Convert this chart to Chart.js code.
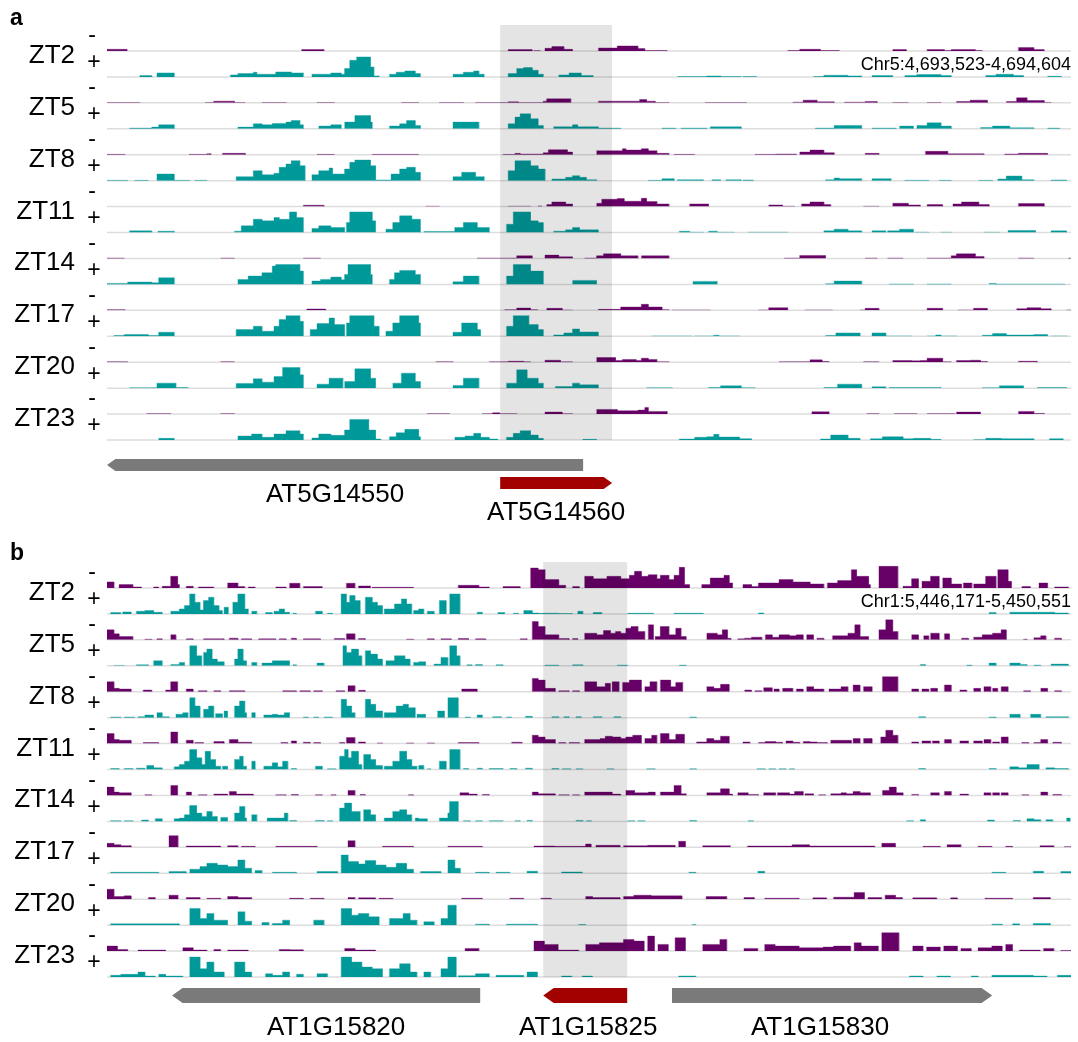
<!DOCTYPE html>
<html>
<head>
<meta charset="utf-8">
<title>Stranded coverage, ZT time course</title>
<script src="https://cdn.jsdelivr.net/npm/chart.js@4.4.1/dist/chart.umd.min.js"></script>
<style>
  html, body { margin: 0; padding: 0; background: #fff; }
  #wrap { position: relative; width: 1078px; height: 1042px; }
  canvas { position: absolute; left: 0; }
  #panelA { top: 0; }
  #panelB { top: 530px; }
</style>
</head>
<body>
<div id="wrap">
  <canvas id="panelA" width="1078" height="530"></canvas>
  <canvas id="panelB" width="1078" height="512"></canvas>
</div>
<script>
// sampling times, shared by both loci
const timepoints = ['ZT2', 'ZT5', 'ZT8', 'ZT11', 'ZT14', 'ZT17', 'ZT20', 'ZT23'];

// coverage runs: [start, end, value], positions in window units (0-2800)
// ---- locus a: Chr5:4,693,523-4,694,604 ----
const a_ZT2_minus = [[0,58,5],[565,630,4],[1165,1235,4],[1240,1258,1],[1272,1292,8],[1292,1327,13],[1327,1352,5],[1427,1482,9],[1482,1542,15],[1542,1562,7],[1562,1627,1],[1977,2012,1],[2012,2072,5],[2072,2127,1],[2282,2322,4],[2382,2432,4],[2432,2452,1],[2452,2522,4],[2522,2542,1],[2647,2692,10],[2692,2722,4]];
const a_ZT2_plus = [[95,130,4],[145,195,12],[358,380,6],[380,425,10],[425,435,14],[435,490,8],[490,535,15],[535,570,12],[595,650,8],[650,680,12],[680,690,8],[690,705,25],[705,725,50],[725,765,60],[765,775,30],[775,790,3],[820,840,8],[840,865,14],[865,895,18],[895,910,10],[1005,1035,8],[1035,1065,14],[1065,1080,18],[1080,1095,8],[1165,1190,10],[1190,1210,25],[1210,1235,28],[1235,1252,20],[1252,1267,8],[1312,1342,6],[1342,1377,12],[1377,1412,4],[1657,1742,1],[1742,1782,3],[1782,1842,1],[1847,1887,1],[2052,2082,1],[2082,2152,5],[2152,2192,3],[2222,2282,4],[2317,2352,4],[2352,2422,7],[2422,2452,4],[2552,2582,4],[2582,2632,8],[2632,2662,4],[2732,2772,2]];
const a_ZT5_minus = [[0,95,1],[285,310,1],[310,370,5],[370,400,1],[450,520,1],[610,660,1],[855,905,1],[965,1035,1],[1070,1165,1],[1165,1195,3],[1195,1267,1],[1267,1277,5],[1277,1347,12],[1427,1547,5],[1547,1567,10],[1567,1592,5],[1592,1632,1],[1737,1857,1],[1992,2022,2],[2022,2062,8],[2062,2112,3],[2142,2202,2],[2202,2237,4],[2282,2327,1],[2382,2422,1],[2467,2507,4],[2507,2557,8],[2612,2642,4],[2642,2672,15],[2672,2722,7],[2722,2742,1]];
const a_ZT5_plus = [[65,130,2],[130,150,5],[150,195,12],[380,425,5],[425,450,15],[450,480,12],[480,520,16],[520,535,20],[535,560,25],[560,570,12],[615,650,8],[650,680,12],[690,720,20],[720,765,40],[765,770,20],[820,850,8],[850,870,15],[870,895,25],[895,910,10],[1005,1080,20],[1165,1185,15],[1185,1200,35],[1200,1230,45],[1230,1252,30],[1252,1267,10],[1297,1352,6],[1352,1367,12],[1367,1427,6],[1427,1492,2],[1612,1652,2],[1667,1742,2],[1752,1842,6],[2057,2112,2],[2112,2192,10],[2222,2292,2],[2302,2342,8],[2352,2382,10],[2382,2422,18],[2422,2452,8],[2537,2572,4],[2572,2622,8],[2622,2692,3],[2732,2767,2]];
const a_ZT8_minus = [[0,52,1],[238,290,1],[290,302,3],[335,402,4],[610,660,1],[770,905,1],[1150,1185,1],[1185,1200,4],[1200,1267,2],[1267,1282,6],[1282,1337,15],[1337,1352,8],[1422,1497,12],[1497,1507,18],[1507,1552,14],[1552,1572,18],[1572,1597,12],[1597,1632,4],[1647,1707,1],[1882,1942,1],[1942,2002,2],[2012,2042,8],[2042,2082,14],[2082,2112,6],[2202,2242,4],[2377,2442,10],[2442,2547,3],[2607,2647,2],[2647,2732,4]];
const a_ZT8_plus = [[0,60,1],[80,120,1],[145,195,20],[195,240,1],[255,290,1],[375,425,12],[425,450,30],[450,485,18],[485,500,22],[500,520,40],[520,535,50],[535,560,60],[560,575,45],[595,615,18],[615,645,30],[645,655,38],[655,690,20],[690,705,35],[705,720,55],[720,765,62],[765,780,45],[780,825,2],[825,850,20],[850,870,35],[870,895,40],[895,910,25],[1005,1030,12],[1030,1070,25],[1070,1095,12],[1165,1185,30],[1185,1230,60],[1230,1252,45],[1252,1272,35],[1292,1332,5],[1332,1352,10],[1352,1372,15],[1372,1392,10],[1392,1422,3],[1572,1612,1],[1612,1647,6],[1657,1732,3],[1757,1782,3],[1797,1842,3],[1847,1877,2],[2087,2112,3],[2112,2127,8],[2127,2192,6],[2222,2277,6],[2317,2387,1],[2417,2452,1],[2532,2572,1],[2587,2612,5],[2612,2657,14],[2657,2692,3],[2742,2787,2]];
const a_ZT11_minus = [[570,630,4],[925,965,1],[1165,1230,1],[1252,1262,2],[1277,1292,6],[1292,1332,14],[1332,1352,8],[1422,1437,10],[1437,1482,22],[1482,1502,24],[1502,1552,16],[1552,1567,25],[1567,1597,15],[1597,1632,8],[1692,1747,8],[1922,1962,5],[1962,1997,1],[2017,2042,8],[2042,2082,14],[2082,2102,6],[2197,2242,1],[2282,2327,10],[2327,2362,5],[2382,2427,6],[2457,2482,8],[2482,2532,14],[2532,2562,6],[2647,2722,9]];
const a_ZT11_plus = [[65,130,5],[148,195,4],[370,390,4],[390,425,20],[425,450,40],[450,485,35],[485,500,45],[500,530,40],[530,550,62],[550,570,45],[595,615,12],[615,650,20],[650,690,15],[695,705,30],[705,770,62],[770,780,35],[810,830,10],[830,850,30],[850,885,50],[885,910,40],[920,1010,3],[1010,1035,15],[1035,1075,30],[1075,1110,15],[1160,1180,25],[1180,1230,62],[1230,1252,35],[1252,1267,30],[1297,1332,4],[1332,1352,8],[1352,1372,15],[1372,1427,8],[1662,1692,4],[1692,1732,1],[1747,1772,4],[1772,1822,1],[1862,1977,1],[2082,2112,5],[2112,2152,10],[2152,2192,5],[2222,2262,5],[2267,2302,5],[2302,2342,10],[2347,2387,1],[2422,2452,1],[2547,2592,1],[2617,2697,6],[2742,2787,5]];
const a_ZT14_minus = [[0,50,1],[330,370,1],[570,620,1],[1075,1190,1],[1190,1235,8],[1272,1312,10],[1312,1352,5],[1387,1422,1],[1422,1442,8],[1442,1492,14],[1492,1542,8],[1552,1632,8],[1967,2012,1],[2012,2087,9],[2202,2237,1],[2267,2312,1],[2382,2452,1],[2452,2467,8],[2467,2522,14],[2522,2547,6],[2647,2692,1],[2792,2800,1]];
const a_ZT14_plus = [[0,60,3],[60,130,7],[130,150,5],[150,195,20],[380,410,15],[410,450,25],[450,480,35],[480,490,55],[490,560,60],[560,570,40],[595,620,10],[620,650,15],[650,680,22],[680,690,14],[690,700,30],[700,765,60],[765,770,30],[820,835,15],[835,850,35],[850,895,42],[895,910,30],[1005,1035,8],[1035,1080,25],[1160,1180,25],[1180,1230,60],[1230,1267,40],[1352,1422,12],[1702,1772,9],[2087,2112,2],[2112,2192,10],[2272,2342,1],[2382,2452,1],[2562,2582,3],[2582,2782,1]];
const a_ZT17_minus = [[0,52,2],[580,635,4],[1155,1190,2],[1190,1230,7],[1230,1250,2],[1277,1322,6],[1322,1352,1],[1427,1492,3],[1492,1552,10],[1552,1572,18],[1572,1612,10],[1612,1632,2],[1642,1752,1],[1892,1922,1],[1922,1977,8],[2027,2107,1],[2187,2202,1],[2202,2242,6],[2382,2427,6],[2472,2517,1],[2517,2557,6],[2642,2672,5],[2672,2712,8],[2712,2742,5],[2787,2800,1]];
const a_ZT17_plus = [[20,50,2],[50,120,5],[120,150,2],[150,195,12],[375,425,20],[425,450,30],[450,485,15],[485,500,30],[500,520,50],[520,560,62],[560,570,45],[590,610,20],[610,645,38],[645,660,55],[660,690,35],[695,705,40],[705,775,62],[775,790,30],[810,830,15],[830,850,40],[850,905,62],[905,910,40],[1005,1030,12],[1030,1075,40],[1075,1085,20],[1160,1180,30],[1180,1225,62],[1225,1252,35],[1252,1267,20],[1297,1327,4],[1327,1352,10],[1352,1372,22],[1372,1427,13],[1582,1697,1],[1707,1762,1],[1762,1777,3],[1777,1837,1],[2087,2117,2],[2117,2187,10],[2222,2262,10],[2262,2337,1],[2382,2407,1],[2407,2422,4],[2422,2467,1],[2542,2572,3],[2572,2612,8],[2612,2692,4],[2692,2732,5],[2742,2787,1]];
const a_ZT20_minus = [[0,60,1],[330,370,1],[955,1005,1],[1110,1165,1],[1165,1210,3],[1210,1230,1],[1272,1317,6],[1317,1352,1],[1422,1477,14],[1477,1497,5],[1497,1537,8],[1537,1552,5],[1552,1572,12],[1572,1597,8],[1597,1632,1],[1952,2042,1],[2042,2077,7],[2077,2097,2],[2197,2242,1],[2282,2337,5],[2337,2362,4],[2362,2382,5],[2382,2427,12],[2427,2452,1],[2467,2507,5],[2507,2537,6],[2537,2557,2],[2647,2702,3]];
const a_ZT20_plus = [[65,145,1],[145,200,15],[200,235,2],[375,425,14],[425,450,28],[450,485,18],[485,510,35],[510,560,62],[560,570,40],[610,645,12],[645,685,30],[690,720,20],[720,765,58],[765,780,30],[830,855,15],[855,895,45],[895,910,20],[1005,1035,8],[1035,1080,30],[1160,1190,15],[1190,1220,55],[1220,1252,30],[1252,1267,15],[1302,1352,5],[1352,1372,15],[1372,1427,10],[1567,1642,1],[1747,1782,2],[1782,1842,7],[1842,1882,1],[2082,2122,2],[2122,2192,12],[2222,2262,4],[2272,2422,2],[2542,2592,1],[2592,2662,7],[2702,2787,2]];
const a_ZT23_minus = [[115,185,1],[330,370,1],[930,995,1],[1090,1120,1],[1120,1140,4],[1140,1190,1],[1272,1322,6],[1322,1352,1],[1422,1482,14],[1482,1542,10],[1542,1562,12],[1562,1572,20],[1572,1627,8],[2047,2097,7],[2207,2242,1],[2287,2352,1],[2382,2462,1],[2467,2537,6],[2647,2692,8],[2692,2722,2]];
const a_ZT23_plus = [[150,195,5],[380,420,12],[420,450,18],[450,485,8],[485,520,18],[520,560,28],[560,570,18],[595,615,6],[615,650,18],[650,690,14],[690,705,30],[705,760,62],[760,780,30],[780,795,3],[820,840,10],[840,865,22],[865,905,32],[905,910,10],[1010,1040,8],[1040,1065,12],[1065,1085,20],[1085,1110,8],[1110,1135,3],[1160,1180,8],[1180,1200,20],[1200,1230,28],[1230,1252,15],[1252,1267,5],[1382,1422,2],[1662,1707,3],[1707,1742,8],[1742,1762,10],[1762,1777,17],[1777,1837,9],[1837,1872,4],[2072,2102,3],[2102,2152,15],[2152,2187,5],[2217,2252,4],[2252,2312,10],[2312,2342,4],[2342,2392,5],[2392,2422,2],[2517,2552,1],[2552,2597,5],[2597,2692,4],[2737,2777,4]];

// ---- locus b: Chr1:5,446,171-5,450,551 ----
const b_ZT2_minus = [[0,20,18],[35,75,10],[75,100,3],[135,150,3],[160,185,5],[185,205,35],[205,210,10],[230,250,5],[265,310,3],[350,380,15],[380,400,4],[410,430,3],[490,520,3],[530,560,14],[570,625,4],[695,720,14],[730,765,6],[770,890,2],[1020,1080,8],[1080,1110,3],[1150,1200,4],[1230,1252,60],[1252,1272,55],[1272,1312,25],[1312,1332,8],[1352,1372,4],[1387,1412,35],[1412,1452,28],[1452,1492,35],[1492,1517,28],[1517,1532,38],[1532,1552,50],[1552,1572,35],[1572,1597,40],[1597,1607,28],[1607,1632,38],[1632,1647,25],[1647,1662,38],[1662,1677,62],[1677,1692,10],[1727,1752,10],[1752,1792,30],[1792,1807,38],[1807,1817,15],[1847,1872,10],[1872,1892,4],[1892,1952,15],[1952,1992,25],[1992,2042,18],[2042,2082,12],[2092,2122,15],[2122,2162,22],[2162,2177,55],[2177,2212,35],[2212,2217,10],[2242,2297,65],[2312,2337,5],[2337,2357,28],[2367,2392,20],[2392,2417,35],[2427,2452,30],[2452,2482,12],[2487,2512,15],[2517,2552,12],[2552,2582,35],[2587,2617,55],[2617,2627,20],[2657,2682,4],[2707,2732,15],[2752,2792,3]];
const b_ZT2_plus = [[10,40,4],[45,70,6],[85,110,8],[110,135,10],[135,160,5],[185,210,8],[210,225,15],[225,240,25],[240,255,60],[255,270,35],[270,280,12],[280,295,40],[295,310,50],[310,325,25],[325,335,10],[340,352,20],[365,380,35],[380,400,60],[400,410,15],[420,435,8],[460,480,4],[485,500,8],[500,515,15],[515,530,5],[540,550,2],[605,625,8],[640,655,2],[680,695,60],[695,705,35],[705,720,55],[720,735,40],[750,770,50],[770,785,35],[785,800,25],[805,835,15],[835,855,30],[855,870,45],[870,885,30],[890,905,10],[905,920,15],[930,950,8],[965,985,40],[995,1025,60],[1075,1090,5],[1135,1155,4],[1180,1195,2],[1210,1235,10],[1235,1252,3],[1252,1312,2],[1312,1352,1],[1367,1382,8],[1412,1437,4],[1512,1587,2],[1647,1732,2],[1892,1907,3],[2562,2582,4],[2622,2752,5],[2752,2792,3]];
const b_ZT5_minus = [[0,20,30],[20,35,18],[35,75,10],[110,130,2],[145,160,3],[185,200,15],[230,250,3],[280,340,3],[355,380,5],[390,420,3],[440,490,3],[500,520,3],[535,550,5],[570,620,3],[660,690,4],[695,720,18],[730,750,4],[870,890,2],[930,950,3],[970,1000,3],[1020,1050,4],[1070,1100,3],[1200,1220,3],[1235,1252,55],[1252,1272,40],[1272,1312,15],[1312,1342,4],[1352,1367,4],[1387,1422,20],[1422,1442,15],[1442,1462,28],[1462,1477,20],[1477,1492,25],[1492,1507,20],[1507,1522,35],[1522,1542,40],[1542,1562,25],[1572,1587,45],[1592,1607,10],[1607,1632,40],[1632,1652,15],[1652,1667,35],[1667,1682,10],[1742,1772,20],[1772,1787,15],[1787,1802,30],[1802,1812,5],[1832,1852,3],[1852,1872,5],[1872,1902,8],[1912,1932,15],[1932,1952,8],[1952,1982,15],[1982,2002,12],[2002,2022,15],[2032,2052,15],[2062,2082,5],[2107,2152,12],[2152,2172,20],[2172,2187,45],[2187,2212,10],[2242,2262,30],[2262,2282,60],[2282,2297,25],[2337,2357,15],[2372,2387,12],[2392,2417,20],[2432,2447,18],[2482,2502,5],[2517,2542,8],[2542,2572,15],[2572,2597,20],[2597,2612,30],[2662,2672,2],[2692,2712,6],[2712,2727,12],[2752,2772,5]];
const b_ZT5_plus = [[20,50,1],[85,120,3],[135,160,15],[185,210,4],[210,225,10],[240,260,60],[260,275,30],[280,290,40],[290,305,50],[305,320,20],[320,340,12],[370,380,20],[380,395,50],[395,405,15],[420,435,10],[450,480,8],[480,530,15],[540,550,3],[610,630,8],[685,695,60],[695,710,40],[710,730,50],[730,740,30],[750,765,45],[765,785,35],[785,800,20],[810,835,15],[835,865,30],[865,880,20],[890,905,10],[905,925,12],[950,970,5],[970,990,25],[995,1015,60],[1015,1025,30],[1045,1060,3],[1070,1090,4],[1130,1150,3],[1272,1312,2],[1352,1382,3],[1482,1512,2],[1662,1682,2],[2362,2377,4],[2497,2512,2],[2562,2582,8],[2622,2652,8],[2652,2672,4],[2692,2712,2],[2742,2792,5]];
const b_ZT8_minus = [[0,20,30],[20,35,10],[35,70,8],[105,130,5],[170,185,5],[185,205,30],[230,250,8],[265,290,3],[310,330,3],[355,400,3],[510,550,3],[560,590,3],[600,625,3],[665,690,3],[700,720,18],[730,750,4],[1030,1075,8],[1235,1252,40],[1252,1272,35],[1272,1302,10],[1312,1342,3],[1352,1372,3],[1387,1422,30],[1422,1447,15],[1447,1462,25],[1467,1487,30],[1497,1517,28],[1517,1552,35],[1562,1577,15],[1577,1597,30],[1607,1637,35],[1637,1652,15],[1652,1672,28],[1742,1762,15],[1762,1782,10],[1782,1807,22],[1852,1872,5],[1882,1902,3],[1907,1932,12],[1937,1952,8],[1962,1992,10],[2002,2022,8],[2032,2052,15],[2052,2082,8],[2097,2132,8],[2132,2152,15],[2167,2187,20],[2197,2222,15],[2252,2297,45],[2337,2357,8],[2367,2387,8],[2392,2412,10],[2432,2452,20],[2477,2497,5],[2517,2537,10],[2547,2567,15],[2572,2587,10],[2597,2617,15],[2662,2682,3],[2712,2732,10],[2752,2772,3]];
const b_ZT8_plus = [[10,40,2],[50,80,2],[90,110,3],[110,135,8],[145,160,15],[160,180,3],[200,220,10],[220,235,15],[240,255,60],[255,270,35],[280,295,25],[295,310,35],[315,335,12],[340,350,20],[370,385,35],[385,400,50],[400,405,15],[420,430,15],[455,480,8],[480,495,10],[495,515,8],[515,530,15],[570,585,2],[600,615,2],[630,655,2],[680,695,55],[695,710,35],[710,720,15],[750,765,55],[765,780,40],[780,800,20],[805,840,15],[840,860,35],[860,875,40],[875,895,30],[900,925,10],[960,980,20],[990,1020,60],[1040,1055,2],[1075,1090,8],[1120,1145,3],[1160,1175,2],[1215,1235,4],[1292,1312,3],[1327,1342,3],[1362,1377,3],[1412,1437,3],[1472,1492,3],[1692,1712,2],[2357,2377,3],[2562,2582,2],[2622,2652,10],[2682,2712,10],[2727,2792,3]];
const b_ZT11_minus = [[0,20,30],[20,35,12],[35,70,10],[105,150,3],[185,205,35],[230,250,10],[255,280,3],[310,340,6],[355,380,12],[380,420,4],[505,525,3],[535,550,8],[570,590,4],[600,620,3],[675,690,3],[695,720,18],[730,750,5],[785,800,2],[870,890,2],[930,950,2],[1020,1080,3],[1175,1205,4],[1235,1252,25],[1252,1272,20],[1272,1302,12],[1312,1332,3],[1342,1372,3],[1387,1432,12],[1432,1447,15],[1447,1467,22],[1467,1492,20],[1492,1507,15],[1507,1527,20],[1527,1552,25],[1562,1582,15],[1582,1597,25],[1607,1632,30],[1632,1652,12],[1652,1677,28],[1712,1742,5],[1742,1762,15],[1762,1782,10],[1782,1807,22],[1847,1867,5],[1892,1912,3],[1912,1942,6],[1942,1962,4],[1972,1992,8],[1992,2012,4],[2022,2042,6],[2042,2062,5],[2062,2092,3],[2102,2162,10],[2167,2187,15],[2197,2222,15],[2247,2262,20],[2262,2282,40],[2282,2297,25],[2337,2357,5],[2367,2392,8],[2397,2417,8],[2432,2452,12],[2477,2502,8],[2517,2542,8],[2547,2567,12],[2572,2592,5],[2597,2617,20],[2657,2677,3],[2692,2712,3],[2712,2732,12],[2747,2772,4]];
const b_ZT11_plus = [[10,35,3],[50,75,3],[85,110,4],[115,135,12],[135,160,5],[195,210,8],[210,225,15],[225,240,25],[240,260,60],[260,275,35],[275,285,15],[285,300,55],[300,315,30],[315,330,10],[335,350,10],[370,385,30],[385,395,40],[395,405,10],[420,430,25],[455,480,10],[480,495,20],[495,510,8],[510,525,25],[535,550,3],[605,625,10],[640,665,2],[675,690,40],[690,700,60],[700,710,35],[710,730,55],[730,740,15],[745,765,45],[765,780,30],[780,800,12],[805,830,10],[830,850,25],[850,870,55],[870,885,30],[885,900,10],[905,920,12],[930,940,2],[965,985,25],[995,1025,60],[1035,1050,3],[1075,1090,4],[1110,1150,3],[1170,1190,3],[1215,1235,4],[1292,1312,3],[1322,1347,2],[1362,1382,2],[1452,1472,2],[1567,1592,2],[1692,1712,2],[1887,1912,2],[1922,1942,2],[1952,1972,2],[1982,1997,2],[2357,2377,3],[2562,2582,3],[2622,2647,8],[2647,2672,5],[2672,2707,15],[2727,2752,5],[2752,2792,3]];
const b_ZT14_minus = [[0,20,25],[20,35,10],[35,70,8],[110,130,2],[185,205,30],[230,245,10],[265,290,2],[310,350,4],[355,375,12],[375,425,4],[490,520,2],[535,555,3],[605,625,2],[650,665,2],[700,720,15],[735,750,3],[875,890,2],[1025,1050,8],[1050,1075,4],[1090,1110,3],[1235,1252,10],[1252,1302,5],[1312,1342,2],[1352,1372,2],[1387,1467,10],[1467,1492,4],[1507,1532,15],[1532,1572,8],[1572,1592,10],[1607,1647,10],[1647,1667,30],[1667,1682,5],[1742,1782,8],[1782,1807,20],[1807,1817,4],[1832,1862,8],[1862,1892,3],[1907,1942,8],[1947,1982,8],[1982,1997,4],[1997,2022,12],[2027,2052,5],[2067,2087,2],[2102,2132,5],[2132,2147,8],[2147,2167,5],[2167,2187,12],[2187,2217,8],[2252,2272,15],[2272,2292,25],[2292,2312,8],[2337,2357,3],[2392,2417,8],[2432,2452,12],[2477,2502,4],[2547,2567,8],[2572,2592,8],[2597,2617,8],[2657,2677,2],[2712,2732,10],[2747,2772,3]];
const b_ZT14_plus = [[10,40,2],[50,75,2],[100,120,4],[140,160,8],[195,210,8],[210,225,10],[225,240,20],[240,260,48],[260,275,25],[275,290,15],[290,305,30],[305,320,15],[330,350,12],[370,385,25],[385,400,45],[400,405,10],[420,435,20],[465,515,10],[515,525,25],[530,550,3],[605,630,3],[640,655,2],[675,690,40],[690,710,55],[710,735,30],[745,765,35],[765,780,20],[805,830,10],[830,850,30],[850,870,35],[870,885,20],[895,905,10],[905,930,8],[965,990,10],[990,995,25],[995,1020,60],[1035,1055,2],[1070,1090,2],[1110,1150,2],[1185,1200,2],[1220,1235,3],[1362,1382,3],[1392,1407,2],[1512,1532,2],[1542,1562,2],[1692,1712,3],[1862,1877,2],[2322,2342,2],[2362,2377,5],[2557,2577,4],[2632,2652,3],[2672,2692,8],[2692,2712,5],[2727,2747,5],[2787,2797,10]];
const b_ZT17_minus = [[0,20,12],[20,40,8],[40,70,5],[180,206,35],[230,330,4],[350,380,5],[390,430,3],[490,610,3],[700,720,20],[800,890,3],[990,1090,3],[1240,1300,4],[1300,1390,3],[1390,1406,10],[1420,1490,6],[1500,1570,5],[1570,1650,6],[1660,1680,18],[1730,1810,5],[1860,1990,4],[1990,2040,8],[2040,2230,4],[2250,2290,12],[2370,2420,3],[2440,2480,8],[2530,2570,3],[2610,2630,3],[2710,2750,5],[2780,2800,2]];
const b_ZT17_plus = [[10,150,3],[180,230,5],[240,270,12],[270,290,20],[290,320,30],[320,350,25],[350,380,20],[380,400,40],[400,420,15],[430,450,8],[480,550,3],[610,670,5],[680,700,55],[700,730,35],[730,750,28],[750,780,38],[780,810,25],[810,840,18],[840,870,30],[870,890,12],[910,970,5],[990,1010,40],[1010,1026,15],[1070,1110,3],[1130,1170,3],[1220,1250,6],[1320,1380,4],[1690,1710,3],[1890,1910,6],[2570,2610,3],[2690,2720,6],[2770,2800,5]];
const b_ZT20_minus = [[0,20,30],[20,50,8],[50,70,10],[120,140,5],[180,206,12],[230,270,5],[290,330,3],[350,380,8],[380,420,5],[530,570,3],[590,630,3],[700,720,5],[730,780,4],[790,830,3],[1030,1090,3],[1170,1210,3],[1260,1290,3],[1390,1410,8],[1410,1490,5],[1500,1530,8],[1530,1580,12],[1580,1670,10],[1740,1800,8],[1850,1880,5],[1910,2010,3],[2050,2090,4],[2110,2170,6],[2170,2200,20],[2210,2250,5],[2260,2290,12],[2290,2310,5],[2340,2410,4],[2450,2470,4],[2550,2630,3],[2690,2740,5]];
const b_ZT20_plus = [[10,210,4],[240,270,50],[270,290,20],[290,310,35],[310,350,15],[380,400,40],[400,420,12],[450,470,8],[480,510,5],[510,530,15],[600,630,15],[680,710,50],[710,730,30],[730,760,35],[760,790,25],[820,860,20],[860,880,35],[880,900,15],[920,950,10],[970,990,20],[990,1014,60],[1070,1110,3],[1160,1250,3],[1370,1390,2],[1700,1710,2],[2570,2600,3],[2630,2650,4],[2690,2740,5]];
const b_ZT23_minus = [[0,30,15],[30,60,5],[90,170,3],[220,250,10],[250,290,3],[310,330,5],[350,410,3],[500,530,5],[530,570,4],[690,720,8],[720,780,3],[1040,1080,8],[1240,1270,30],[1270,1310,20],[1310,1370,3],[1390,1430,20],[1430,1500,25],[1500,1530,35],[1530,1560,30],[1570,1590,45],[1600,1630,20],[1650,1680,40],[1730,1780,20],[1780,1800,35],[1850,1890,8],[1910,1940,20],[1940,2010,15],[2010,2080,10],[2080,2110,12],[2110,2160,15],[2170,2190,25],[2190,2240,15],[2250,2300,55],[2340,2370,15],[2380,2420,12],[2430,2470,15],[2480,2510,8],[2530,2570,10],[2570,2600,15],[2610,2630,20],[2650,2710,3],[2720,2750,8],[2770,2800,2]];
const b_ZT23_plus = [[10,40,5],[40,90,8],[90,110,15],[110,140,3],[150,170,8],[170,220,3],[240,270,60],[270,290,25],[290,310,45],[310,340,15],[370,400,45],[400,420,15],[460,480,10],[480,510,5],[510,530,15],[550,570,8],[610,640,10],[680,710,60],[710,740,45],[740,770,30],[770,800,25],[820,850,25],[850,880,40],[880,900,15],[920,940,15],[970,990,25],[990,1014,60],[1020,1070,4],[1070,1110,10],[1130,1210,5],[1220,1250,15],[1320,1350,3],[1380,1410,3],[1660,1710,3],[2330,2370,3],[2410,2450,3],[2510,2530,3],[2570,2690,5],[2690,2730,3],[2760,2800,5]];

// gene models (window units)
const genesA = ['AT5G14550', 'AT5G14560'];
const geneStartA = [0, 1142];
const geneEndA = [1383, 1467];
const geneStrandA = ['-', '+'];
const genesB = ['AT1G15820', 'AT1G15825', 'AT1G15830'];
const geneStartB = [189, 1267, 1641];
const geneEndB = [1084, 1511, 2571];
const geneStrandB = ['-', '-', '+'];
const regionA = 'Chr5:4,693,523-4,694,604';
const regionB = 'Chr1:5,446,171-5,450,551';
const WINDOW = 2800;
const TRACK_MAX = 78;

const PURPLE = '#660066';
const TEAL = '#009999';
const FONT = 'Arial, "Liberation Sans", sans-serif';

// turn bedGraph-like runs into a stepped outline, broken between runs
function toPoints(runs) {
    const sorted = runs.slice().sort((p, q) => p[0] - q[0]);
    const pts = [];
    let prevEnd = null;
    for (const [s, e, v] of sorted) {
        if (prevEnd === null || s > prevEnd) {
            if (prevEnd !== null) {
                pts.push({x: prevEnd, y: 0}, {x: (prevEnd + s) / 2, y: null});
            }
            pts.push({x: s, y: 0});
        }
        pts.push({x: s, y: v}, {x: e, y: v});
        prevEnd = e;
    }
    if (prevEnd !== null) pts.push({x: prevEnd, y: 0});
    return pts;
}

function drawGene(ctx, xs, start, end, strand, top, h, color) {
    const a = xs.getPixelForValue(start);
    const b = xs.getPixelForValue(end);
    const tip = h * 0.7;
    const mid = top + h / 2;
    ctx.beginPath();
    if (strand === '-') {
        ctx.moveTo(a, mid);
        ctx.lineTo(a + tip, top);
        ctx.lineTo(b, top);
        ctx.lineTo(b, top + h);
        ctx.lineTo(a + tip, top + h);
    } else {
        ctx.moveTo(a, top);
        ctx.lineTo(b - tip, top);
        ctx.lineTo(b, mid);
        ctx.lineTo(b - tip, top + h);
        ctx.lineTo(a, top + h);
    }
    ctx.closePath();
    ctx.fillStyle = color;
    ctx.fill();
}

const tracksPlugin = {
    id: 'tracks',
    beforeDatasetsDraw(chart) {
        const ctx = chart.ctx, area = chart.chartArea;
        ctx.save();
        ctx.strokeStyle = '#dddddd';
        ctx.lineWidth = 1.5;
        Object.values(chart.scales).forEach(s => {
            if (s.axis !== 'y') return;
            const y = s.getPixelForValue(0);
            ctx.beginPath();
            ctx.moveTo(area.left, y);
            ctx.lineTo(area.right, y);
            ctx.stroke();
        });
        ctx.restore();
    },
    afterDatasetsDraw(chart, args, opts) {
        const ctx = chart.ctx, area = chart.chartArea, xs = chart.scales.x;
        const x0 = xs.getPixelForValue(opts.shade[0]);
        const x1 = xs.getPixelForValue(opts.shade[1]);
        ctx.save();
        ctx.fillStyle = 'rgba(0,0,0,0.105)';
        ctx.fillRect(x0, area.top, x1 - x0, area.bottom - area.top);
        ctx.restore();
    },
    afterDraw(chart, args, opts) {
        const ctx = chart.ctx, area = chart.chartArea, xs = chart.scales.x;
        ctx.save();
        ctx.fillStyle = '#000';
        // panel letter
        ctx.font = 'bold 23px ' + FONT;
        ctx.textAlign = 'left';
        ctx.textBaseline = 'alphabetic';
        ctx.fillText(opts.letter, 10, opts.letterY);
        // row labels and strand signs
        timepoints.forEach((tp, i) => {
            const m = chart.scales['m' + i], p = chart.scales['p' + i];
            ctx.font = '26px ' + FONT;
            ctx.textAlign = 'right';
            ctx.textBaseline = 'alphabetic';
            ctx.fillText(tp, 75, m.bottom + 12);
            ctx.font = '23px ' + FONT;
            ctx.textAlign = 'center';
            ctx.textBaseline = 'middle';
            ctx.fillText('-', 92, m.top + 11);
            ctx.fillText('+', 94, p.top + 12);
        });
        // locus
        ctx.font = '18px ' + FONT;
        ctx.textAlign = 'right';
        ctx.textBaseline = 'alphabetic';
        ctx.fillText(opts.region, area.right, chart.scales.m0.bottom + 19);
        // genes
        opts.genes.forEach((g, i) => {
            const row = opts.rows[i];
            const top = area.bottom + opts.geneTop + row * opts.rowStep;
            const color = g === opts.highlight ? '#a30000' : '#7a7a7a';
            drawGene(ctx, xs, opts.starts[i], opts.ends[i], opts.strands[i], top, opts.geneH, color);
            const cx = (xs.getPixelForValue(opts.starts[i]) + xs.getPixelForValue(opts.ends[i])) / 2;
            ctx.font = '26px ' + FONT;
            ctx.textAlign = 'center';
            ctx.fillStyle = '#000';
            ctx.fillText(g, cx + (opts.labelShift[i] || 0), area.bottom + opts.labelY + row * opts.labelStep);
        });
        ctx.restore();
    }
};

function buildPanel(canvasId, minus, plus, padding, plug) {
    const scales = {x: {type: 'linear', min: 0, max: WINDOW, display: false}};
    const datasets = [];
    timepoints.forEach((tp, i) => {
        scales['m' + i] = {type: 'linear', axis: 'y', position: 'right', stack: 'tracks', stackWeight: 1, weight: 2 * i, min: 0, max: TRACK_MAX, display: false};
        scales['p' + i] = {type: 'linear', axis: 'y', position: 'right', stack: 'tracks', stackWeight: 1, weight: 2 * i + 1, min: 0, max: TRACK_MAX, display: false};
        datasets.push({
            label: tp + ' -', data: toPoints(minus[i]), xAxisID: 'x', yAxisID: 'm' + i,
            backgroundColor: PURPLE, borderColor: 'rgba(102,0,102,0.35)', borderWidth: 1,
            fill: 'origin', pointRadius: 0, tension: 0
        });
        datasets.push({
            label: tp + ' +', data: toPoints(plus[i]), xAxisID: 'x', yAxisID: 'p' + i,
            backgroundColor: TEAL, borderColor: 'rgba(0,153,153,0.35)', borderWidth: 1,
            fill: 'origin', pointRadius: 0, tension: 0
        });
    });
    return new Chart(document.getElementById(canvasId), {
        type: 'line',
        data: {datasets},
        options: {
            responsive: false,
            animation: false,
            devicePixelRatio: 1,
            layout: {padding},
            scales,
            plugins: {legend: {display: false}, tooltip: {enabled: false}, tracks: plug}
        },
        plugins: [tracksPlugin]
    });
}

buildPanel('panelA',
    [a_ZT2_minus, a_ZT5_minus, a_ZT8_minus, a_ZT11_minus, a_ZT14_minus, a_ZT17_minus, a_ZT20_minus, a_ZT23_minus],
    [a_ZT2_plus, a_ZT5_plus, a_ZT8_plus, a_ZT11_plus, a_ZT14_plus, a_ZT17_plus, a_ZT20_plus, a_ZT23_plus],
    {left: 107, right: 7, top: 25, bottom: 90},
    {
        letter: 'a', letterY: 25, region: regionA, shade: [geneStartA[1], geneEndA[1]],
        genes: genesA, starts: geneStartA, ends: geneEndA, strands: geneStrandA, highlight: 'AT5G14560',
        rows: [0, 1], geneTop: 19, rowStep: 18, geneH: 12, labelY: 62, labelStep: 18, labelShift: [-10, 0]
    });

buildPanel('panelB',
    [b_ZT2_minus, b_ZT5_minus, b_ZT8_minus, b_ZT11_minus, b_ZT14_minus, b_ZT17_minus, b_ZT20_minus, b_ZT23_minus],
    [b_ZT2_plus, b_ZT5_plus, b_ZT8_plus, b_ZT11_plus, b_ZT14_plus, b_ZT17_plus, b_ZT20_plus, b_ZT23_plus],
    {left: 107, right: 7, top: 32, bottom: 65},
    {
        letter: 'b', letterY: 30, region: regionB, shade: [geneStartB[1], geneEndB[1]],
        genes: genesB, starts: geneStartB, ends: geneEndB, strands: geneStrandB, highlight: 'AT1G15825',
        rows: [0, 0, 0], geneTop: 11, rowStep: 0, geneH: 15, labelY: 58, labelStep: 0, labelShift: [10, 3, -12]
    });
</script>
</body>
</html>
